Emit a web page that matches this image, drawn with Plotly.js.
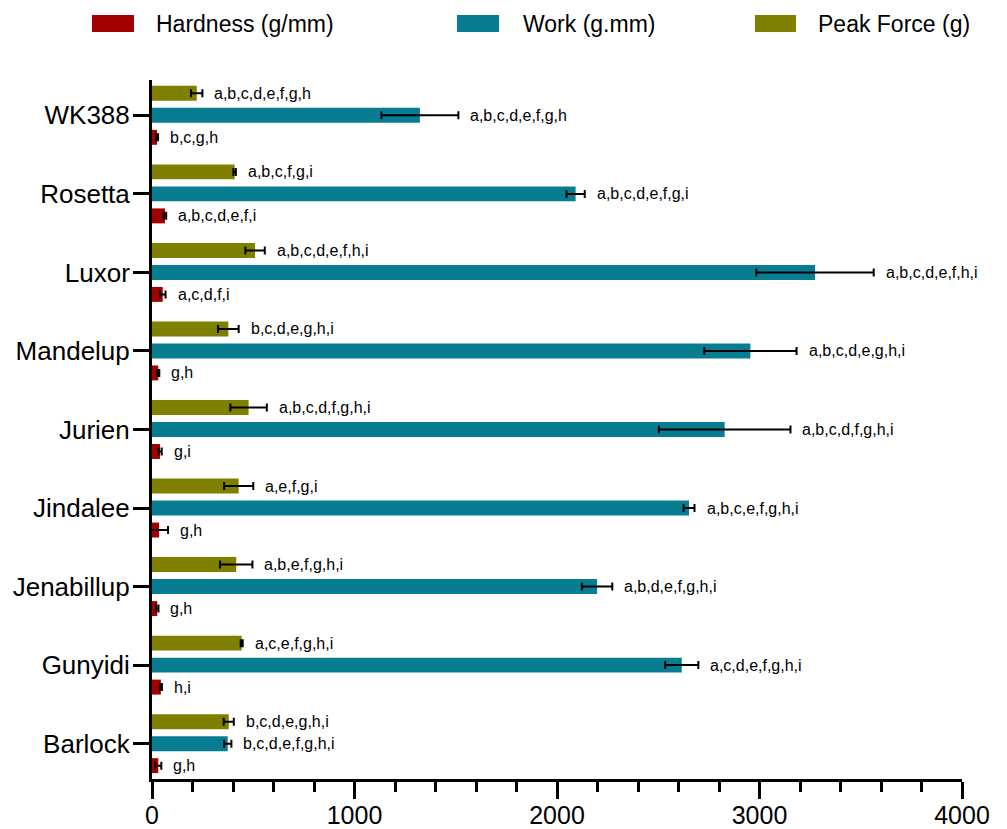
<!DOCTYPE html>
<html>
<head>
<meta charset="utf-8">
<script src="https://cdn.plot.ly/plotly-3.0.1.min.js"></script>
<style>
  html, body { margin: 0; padding: 0; background: #fff; }
  #chart { width: 1007px; height: 829px; }
</style>
</head>
<body>
<div id="chart"></div>
<script>
// Categories bottom-to-top
const cultivars = ['Barlock','Gunyidi','Jenabillup','Jindalee','Jurien','Mandelup','Luxor','Rosetta','WK388'];

const hardness    = [31, 44, 26, 35, 40, 31, 53, 64, 25];
const hardnessErr = [15, 5, 6, 44, 8, 5, 14, 6, 5];
const work        = [374, 2616, 2198, 2652, 2828, 2955, 3274, 2092, 1323];
const workErr     = [18, 82, 75, 27, 325, 228, 290, 45, 190];
const peak        = [379, 443, 416, 428, 477, 377, 509, 408, 221];
const peakErr     = [25, 5, 80, 72, 90, 51, 48, 6, 28];

const hardnessLetters = ['g,h','h,i','g,h','g,h','g,i','g,h','a,c,d,f,i','a,b,c,d,e,f,i','b,c,g,h'];
const workLetters = ['b,c,d,e,f,g,h,i','a,c,d,e,f,g,h,i','a,b,d,e,f,g,h,i','a,b,c,e,f,g,h,i','a,b,c,d,f,g,h,i','a,b,c,d,e,g,h,i','a,b,c,d,e,f,h,i','a,b,c,d,e,f,g,i','a,b,c,d,e,f,g,h'];
const peakLetters = ['b,c,d,e,g,h,i','a,c,e,f,g,h,i','a,b,e,f,g,h,i','a,e,f,g,i','a,b,c,d,f,g,h,i','b,c,d,e,g,h,i','a,b,c,d,e,f,h,i','a,b,c,f,g,i','a,b,c,d,e,f,g,h'];

const seriesNames = ['Hardness (g/mm)', 'Work (g.mm)', 'Peak Force (g)'];
const seriesColors = ['#a30000', '#087d92', '#7f7f00'];

const FONT = 'Arial, "Liberation Sans", Helvetica, sans-serif';

const vals = [hardness, work, peak];
const errs = [hardnessErr, workErr, peakErr];
const letters = [hardnessLetters, workLetters, peakLetters];

const traces = vals.map((v, i) => ({
  type: 'bar',
  orientation: 'h',
  name: seriesNames[i],
  y: cultivars,
  x: v,
  marker: { color: seriesColors[i] },
  error_x: { type: 'data', array: errs[i], visible: true, color: '#000', thickness: 2, width: 4 },
  showlegend: false,
  hoverinfo: 'x+y'
}));

const annotations = [];
const offsets = [-0.28, 0, 0.28];
for (let s = 0; s < 3; s++) {
  for (let c = 0; c < cultivars.length; c++) {
    annotations.push({
      xref: 'x', yref: 'y',
      x: vals[s][c] + errs[s][c],
      y: c + offsets[s],
      text: letters[s][c],
      showarrow: false,
      xanchor: 'left', yanchor: 'middle',
      xshift: 10,
      font: { family: FONT, size: 16, color: '#000' }
    });
  }
}

// custom legend
const legendSw = [[-0.0741, -0.0222], [0.3765, 0.4284], [0.7444, 0.7951]];
const legendTx = [0.0025, 0.4555, 0.8198];
const shapes = [];
for (let i = 0; i < 3; i++) {
  shapes.push({
    type: 'rect', xref: 'paper', yref: 'paper',
    x0: legendSw[i][0], x1: legendSw[i][1], y0: 1.0687, y1: 1.093,
    fillcolor: seriesColors[i], line: { width: 0 }
  });
  annotations.push({
    xref: 'paper', yref: 'paper', x: legendTx[i], y: 1.0795,
    text: seriesNames[i], showarrow: false,
    xanchor: 'left', yanchor: 'middle',
    font: { family: FONT, size: 23, color: '#000' }
  });
}

const layout = {
  width: 1007, height: 829,
  margin: { l: 152, r: 45, t: 80, b: 50 },
  paper_bgcolor: '#fff', plot_bgcolor: '#fff',
  barmode: 'group',
  bargap: 0.16,
  bargroupgap: 0.32,
  showlegend: false,
  font: { family: FONT, color: '#000' },
  xaxis: {
    range: [0, 4000],
    tick0: 0, dtick: 1000,
    ticks: 'outside', ticklen: 17, tickwidth: 3, tickcolor: '#000',
    ticklabelstandoff: -5,
    minor: { dtick: 200, ticks: 'outside', ticklen: 10, tickwidth: 3, tickcolor: '#000', showgrid: false },
    showline: true, linewidth: 3, linecolor: '#000',
    showgrid: false, zeroline: false,
    tickfont: { family: FONT, size: 25, color: '#000' }
  },
  yaxis: {
    type: 'category',
    categoryorder: 'array', categoryarray: cultivars,
    range: [-0.45, 8.45],
    ticks: 'outside', ticklen: 16, tickwidth: 3, tickcolor: '#000',
    ticklabelstandoff: -2,
    showline: true, linewidth: 3, linecolor: '#000',
    showgrid: false, zeroline: false,
    tickfont: { family: FONT, size: 26, color: '#000' }
  },
  shapes: shapes,
  annotations: annotations
};

Plotly.newPlot('chart', traces, layout, { displayModeBar: false, staticPlot: true });
</script>
</body>
</html>
